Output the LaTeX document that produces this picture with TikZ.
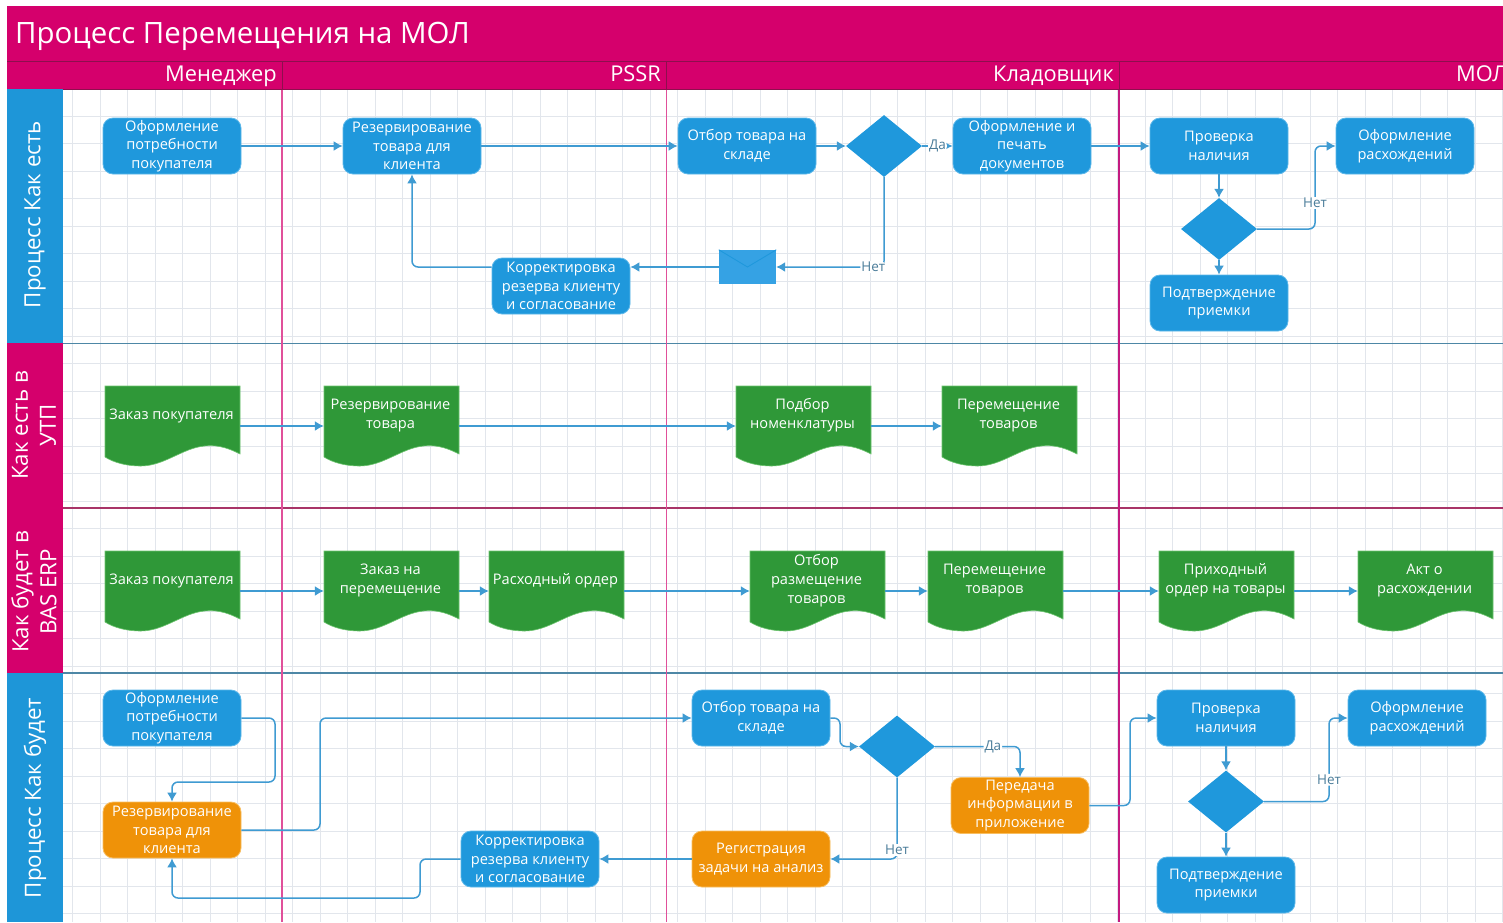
\documentclass[tikz,border=0pt]{standalone}
\usepackage{fontspec}
\setmainfont{Open Sans}
\usetikzlibrary{arrows.meta,shapes.geometric}
\definecolor{magbar}{HTML}{D5006C}
\definecolor{magdark}{HTML}{8E0F4E}
\definecolor{pinkline}{HTML}{E0509A}
\definecolor{pinkdark}{HTML}{C41A80}
\definecolor{blubox}{HTML}{1F98DC}
\definecolor{bluborder}{HTML}{5DB8EA}
\definecolor{lanelab}{HTML}{1E96D8}
\definecolor{grnbox}{HTML}{2F9838}
\definecolor{grnborder}{HTML}{6CC46E}
\definecolor{orgbox}{HTML}{EF9208}
\definecolor{orgborder}{HTML}{F8BE60}
\definecolor{gridc}{HTML}{E2E6EC}
\definecolor{lanesep}{HTML}{4D87A6}
\definecolor{lanesepm}{HTML}{A83468}
\definecolor{connc}{HTML}{3F9BD2}
\definecolor{envc}{HTML}{35A2E4}
\definecolor{labc}{HTML}{4A7C99}
\tikzset{
  gridline/.style={draw=gridc,line width=0.9pt},
  titletext/.style={text=white,inner sep=0pt,font=\fontsize{29.4}{36}\selectfont},
  colhead/.style={text=white,inner sep=0pt,font=\fontsize{21.8}{25}\selectfont},
  lanetext/.style={text=white,inner sep=0pt,align=center,rotate=90,font=\fontsize{22.3}{28}\selectfont},
  procbox/.style={rounded corners=10pt,fill=blubox,draw=bluborder,line width=0.8pt,minimum width=138pt,minimum height=56pt,inner sep=0pt,text=white,align=center,font=\fontsize{14.6}{18.6}\selectfont},
  orgproc/.style={procbox,fill=orgbox,draw=orgborder},
  decbox/.style={diamond,fill=blubox,inner sep=0pt,minimum width=76pt,minimum height=62pt,shape aspect=1.226},
  docbox/.style={inner sep=0pt,minimum width=135pt,minimum height=80pt},
  doctext/.style={text=white,inner sep=0pt,align=center,font=\fontsize{14.6}{18.8}\selectfont},
  conn/.style={draw=connc,line width=1.5pt,rounded corners=6pt,-{Latex[length=9pt,width=10pt]}},
  lab/.style={text=labc,fill=white,inner sep=1pt,font=\fontsize{13.5}{16}\selectfont},
  envbox/.style={fill=envc,inner sep=0pt,minimum width=57pt,minimum height=34pt}
}
\newcommand{\docnode}[4]{%
  \begin{scope}[shift={(#2,#3)}]
    \fill[grnbox,draw=grnborder,line width=0.6pt] (-67.5,-40) -- (67.5,-40) -- (67.5,28)
      .. controls (52,20) and (42,19) .. (32,20)
      .. controls (10,22) and (-8,40) .. (-32,40)
      .. controls (-45,40) and (-58,37) .. (-67.5,31) -- cycle;
    \node[docbox] (#1) at (0,0) {};
    \node[doctext] (#1t) at (-1,-10.5) {#4};
  \end{scope}}
\begin{document}
\begin{tikzpicture}[x=1pt,y=-1pt]
\useasboundingbox (0,0) rectangle (1503,922);
\fill[white] (0,0) rectangle (1503,922);
% grid
\foreach \i in {0,...,52} {\draw[gridline] ({72.7+27.5*\i},89) -- ({72.7+27.5*\i},922);}
\foreach \i in {1,...,30} {\draw[gridline] (63,{88.5+27.5*\i}) -- (1503,{88.5+27.5*\i});}
% lane separators
\draw[draw=lanesep,line width=1.4pt] (63,343.5) -- (1503,343.5);
\draw[draw=lanesepm,line width=1.4pt] (63,508) -- (1503,508);
\draw[draw=lanesep,line width=1.4pt] (63,673) -- (1503,673);
% column separators
\draw[draw=pinkline,line width=1.6pt] (282,89) -- (282,922);
\draw[draw=pinkline,line width=1.6pt] (666.5,89) -- (666.5,922);
\draw[draw=pinkdark,line width=1.2pt] (1119,89) -- (1119,922);
% header
\fill[magbar] (7,6) rectangle (1503,89);
\draw[draw=magdark,line width=1pt] (7,61) -- (1503,61);
\draw[draw=magdark,line width=0.8pt] (7,89) -- (1503,89);
\draw[draw=magdark,line width=0.8pt] (282,61) -- (282,89);
\draw[draw=magdark,line width=0.8pt] (666.5,61) -- (666.5,89);
\draw[draw=magdark,line width=0.8pt] (1119,61) -- (1119,89);
\node[titletext,anchor=base west] (title) at (15,43) {Процесс Перемещения на МОЛ};
\node[colhead,anchor=base east] (cman) at (277,81) {Менеджер};
\node[colhead,anchor=base east] (cpssr) at (661,81) {PSSR};
\node[colhead,anchor=base east] (csklad) at (1114,81) {Кладовщик};
\node[colhead,anchor=base west] (cmol) at (1456,81) {МОЛ};
% lane labels
\fill[lanelab] (7,89) rectangle (63,343);
\fill[magbar] (7,343) rectangle (63,508);
\fill[magbar] (7,508) rectangle (63,673);
\fill[lanelab] (7,673) rectangle (63,922);
\node[lanetext] (l1) at (35,214.5) {Процесс Как есть};
\node[lanetext] (l2) at (34,425.5) {Как есть в\\УТП};
\node[lanetext] (l3) at (34,592) {Как будет в\\BAS ERP};
\node[lanetext] (l4) at (35,798) {Процесс Как будет};
% lane 1
\node[procbox] (op) at (172,146) {Оформление\\потребности\\покупателя};
\node[procbox] (rez) at (412,146) {Резервирование\\товара для\\клиента};
\node[procbox] (otb) at (747,146) {Отбор товара на\\складе};
\node[decbox] (dec1) at (884,146) {};
\node[procbox] (ofpd) at (1022,146) {Оформление и\\печать\\документов};
\node[procbox] (prov) at (1219,146) {Проверка\\наличия};
\node[procbox] (ofr) at (1405,146) {Оформление\\расхождений};
\node[decbox] (dec2) at (1219,229) {};
\node[procbox] (podt) at (1219,303) {Подтверждение\\приемки};
\node[procbox] (korr) at (561,286) {Корректировка\\резерва клиенту\\и согласование};
\node[envbox] (env) at (747.5,267) {};
\draw[draw=blubox,line width=0.9pt] (env.north west) -- (env.center) -- (env.north east);
\coordinate (b1) at (1315,146);
\draw[conn] (op.east) -- (rez.west);
\draw[conn] (rez.east) -- (otb.west);
\draw[conn] (otb.east) -- (dec1.west);
\draw[conn] (dec1.east) -- node[lab,pos=0.5] (da1) {Да} (ofpd.west);
\draw[conn] (ofpd.east) -- (prov.west);
\draw[conn] (prov.south) -- (dec2.north);
\draw[conn] (dec2.south) -- (podt.north);
\draw[conn] (dec2.east) -| node[lab,pos=0.657] (net2) {Нет} (b1) -- (ofr.west);
\draw[conn] (dec1.south) |- node[lab,pos=0.55] (net1) {Нет} (env.east);
\draw[conn] (env.west) -- (env.west -| korr.east);
\draw[conn] (korr.west |- env.west) -| (rez.south);
% lane 2
\docnode{zp1}{172.5}{426}{Заказ покупателя}
\docnode{rt}{391.5}{426}{Резервирование\\товара}
\docnode{pn}{803.5}{426}{Подбор\\номенклатуры}
\docnode{pm}{1009.5}{426}{Перемещение\\товаров}
\draw[conn] (zp1.east) -- (rt.west);
\draw[conn] (rt.east) -- (pn.west);
\draw[conn] (pn.east) -- (pm.west);
% lane 3
\docnode{zp2}{172.5}{591}{Заказ покупателя}
\docnode{zm}{391.5}{591}{Заказ на\\перемещение}
\docnode{ro}{556.5}{591}{Расходный ордер}
\docnode{orpt}{817.5}{591}{Отбор\\размещение\\товаров}
\docnode{prm}{995.5}{591}{Перемещение\\товаров}
\docnode{prh}{1226.5}{591}{Приходный\\ордер на товары}
\docnode{akt}{1425.5}{591}{Акт о\\расхождении}
\draw[conn] (zp2.east) -- (zm.west);
\draw[conn] (zm.east) -- (ro.west);
\draw[conn] (ro.east) -- (orpt.west);
\draw[conn] (orpt.east) -- (prm.west);
\draw[conn] (prm.east) -- (prh.west);
\draw[conn] (prh.east) -- (akt.west);
% lane 4
\node[procbox] (op2) at (172,718) {Оформление\\потребности\\покупателя};
\node[orgproc] (rez2) at (172,830) {Резервирование\\товара для\\клиента};
\node[procbox] (otb2) at (761,718) {Отбор товара на\\складе};
\node[decbox] (dec3) at (897,746.5) {};
\node[orgproc] (per) at (1020,805.5) {Передача\\информации в\\приложение};
\node[procbox] (prov2) at (1226,718) {Проверка\\наличия};
\node[procbox] (ofr2) at (1417,718) {Оформление\\расхождений};
\node[decbox] (dec4) at (1226,801.5) {};
\node[procbox] (podt2) at (1226,885) {Подтверждение\\приемки};
\node[orgproc] (reg) at (761,859) {Регистрация\\задачи на анализ};
\node[procbox] (korr2) at (530,859) {Корректировка\\резерва клиенту\\и согласование};
\coordinate (b2) at (275,782);
\coordinate (b3) at (320,774);
\coordinate (b4) at (840,732);
\coordinate (b5) at (1130,760);
\coordinate (b6) at (420,898);
\coordinate (b7) at (1329,718);
\draw[conn] (op2.east) -| (b2) -| (rez2.north);
\draw[conn] (rez2.east) -| (b3) |- (otb2.west);
\draw[conn] (otb2.east) -| (b4) |- (dec3.west);
\draw[conn] (dec3.east) -| node[lab,pos=0.34] (da3) {Да} (per.north);
\draw[conn] (dec3.south) |- node[lab,pos=0.445] (net3) {Нет} (reg.east);
\draw[conn] (reg.west) -- (korr2.east);
\draw[conn] (korr2.west) -| (b6) -| (rez2.south);
\draw[conn] (per.east) -| (b5) |- (prov2.west);
\draw[conn] (prov2.south) -- (dec4.north);
\draw[conn] (dec4.south) -- (podt2.north);
\draw[conn] (dec4.east) -| node[lab,pos=0.63] (net4) {Нет} (b7) -- (ofr2.west);
\end{tikzpicture}
\end{document}
